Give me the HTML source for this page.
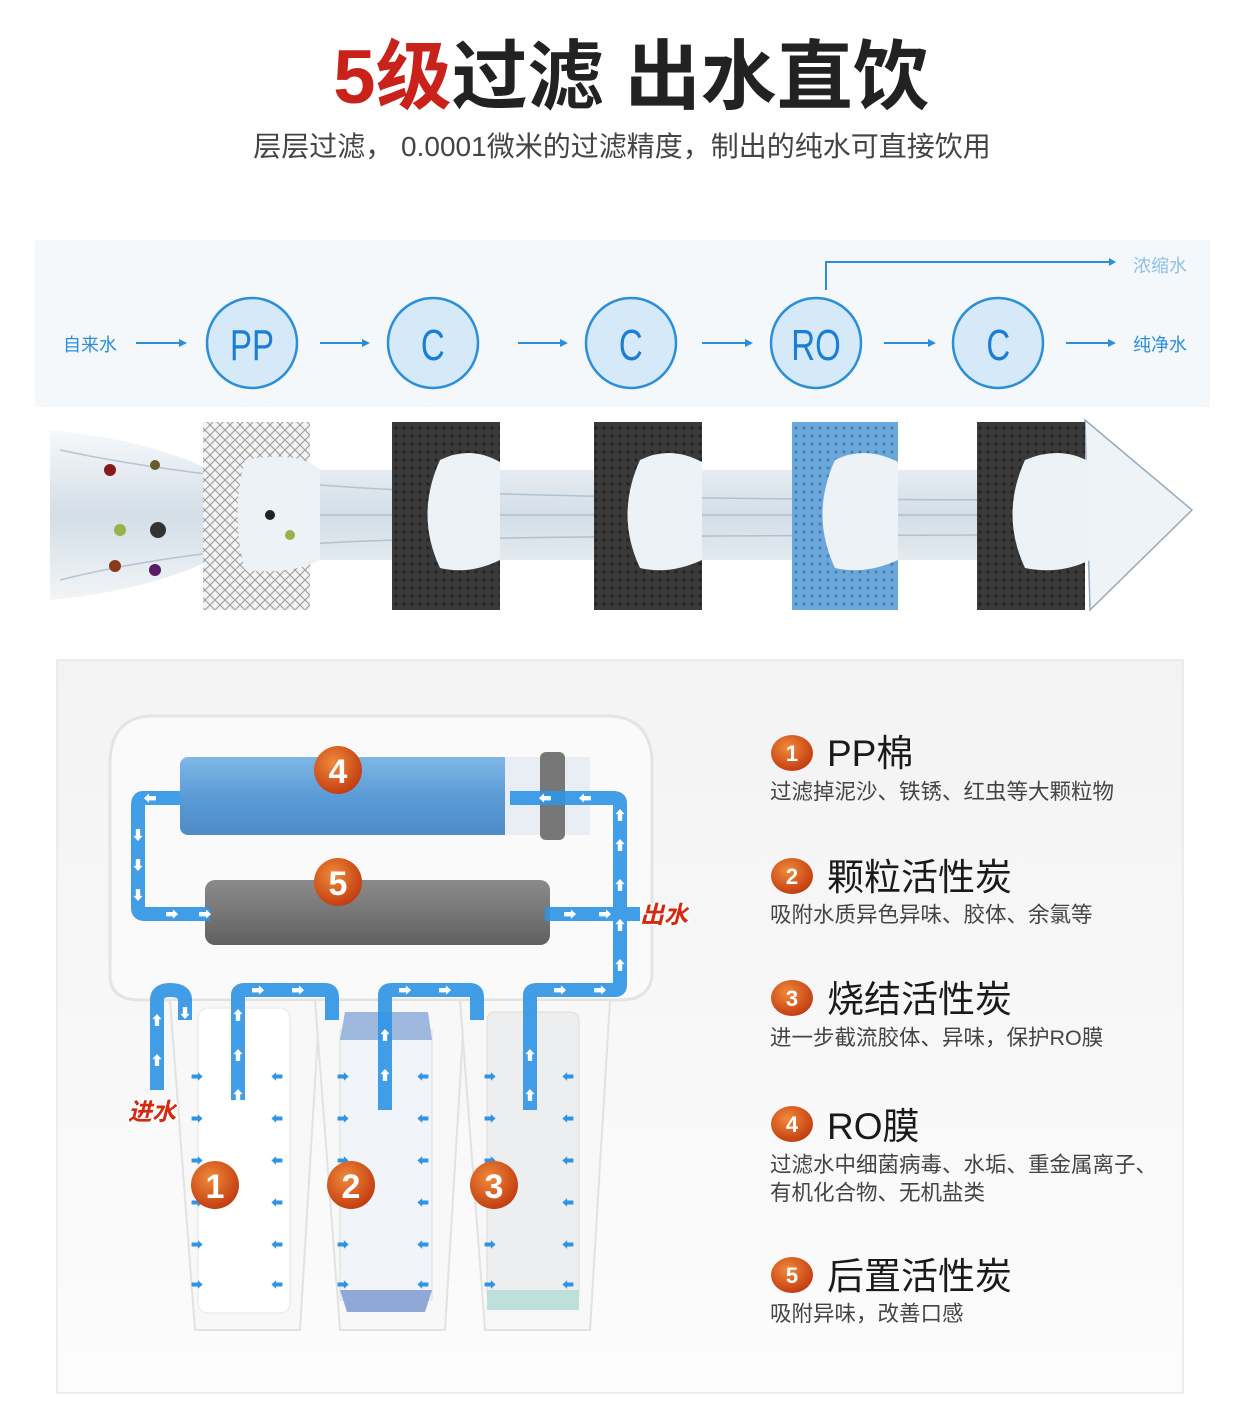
<!DOCTYPE html>
<html><head><meta charset="utf-8"><style>
body{margin:0;width:1242px;height:1407px;background:#fff;overflow:hidden;font-family:"Liberation Sans","Noto Sans CJK SC",sans-serif}
</style></head><body>
<svg width="1242" height="1407" viewBox="0 0 1242 1407" xmlns="http://www.w3.org/2000/svg" font-family="Liberation Sans, Noto Sans CJK SC, sans-serif">
<defs>
<linearGradient id="panel" x1="0" y1="0" x2="0" y2="1"><stop offset="0" stop-color="#f3f3f3"/><stop offset="1" stop-color="#fcfcfc"/></linearGradient>
<linearGradient id="water" x1="0" y1="0" x2="0" y2="1"><stop offset="0" stop-color="#f7f9fb"/><stop offset=".5" stop-color="#d3dee7"/><stop offset="1" stop-color="#f2f5f7"/></linearGradient>
<linearGradient id="ro" x1="0" y1="0" x2="0" y2="1"><stop offset="0" stop-color="#7fb7e6"/><stop offset=".5" stop-color="#5b9cd6"/><stop offset="1" stop-color="#4d8bc6"/></linearGradient>
<linearGradient id="gr" x1="0" y1="0" x2="0" y2="1"><stop offset="0" stop-color="#8a8a8a"/><stop offset=".5" stop-color="#777"/><stop offset="1" stop-color="#606060"/></linearGradient>
<radialGradient id="badge" cx=".4" cy=".35" r=".7"><stop offset="0" stop-color="#f08a3a"/><stop offset="1" stop-color="#c0380e"/></radialGradient>
<pattern id="mesh" width="8" height="8" patternUnits="userSpaceOnUse"><rect width="8" height="8" fill="#3a3a3a"/><circle cx="4" cy="4" r="1.6" fill="#222"/></pattern>
<pattern id="meshb" width="8" height="8" patternUnits="userSpaceOnUse"><rect width="8" height="8" fill="#6aa8db"/><circle cx="4" cy="4" r="1.6" fill="#4a7fae"/></pattern>
<pattern id="meshw" width="10" height="10" patternUnits="userSpaceOnUse"><rect width="10" height="10" fill="#f3f3f3"/><path d="M0 5L5 0L10 5L5 10Z" fill="none" stroke="#999" stroke-width="1"/></pattern>
</defs>

<text x="631" y="103" text-anchor="middle" font-size="76" font-weight="bold" fill="#222"><tspan fill="#c8221a">5级</tspan>过滤 出水直饮</text>
<text x="622" y="156" text-anchor="middle" font-size="28" fill="#444">层层过滤， 0.0001微米的过滤精度，制出的纯水可直接饮用</text>

<rect x="35" y="240" width="1175" height="167" fill="#f5f8fb"/>
<g stroke="#2a8fd8" stroke-width="2" fill="none">
<path d="M826 290V262H1112"/>
<path d="M136 343H183M320 343H366M518 343H564M702 343H749M884 343H932M1066 343H1112"/>
</g>
<g fill="#2a8fd8"><path d="M1116 262l-7-4v8z"/><path d="M187 343l-8-4v8zM370 343l-8-4v8zM568 343l-8-4v8zM753 343l-8-4v8zM936 343l-8-4v8zM1116 343l-8-4v8z"/></g>
<text x="90" y="351" text-anchor="middle" font-size="18" fill="#2a8fd8">自来水</text>
<text x="1160" y="351" text-anchor="middle" font-size="18" fill="#2a8fd8">纯净水</text>
<text x="1160" y="272" text-anchor="middle" font-size="18" fill="#8ec0e8">浓缩水</text>
<g fill="#d6e9f8" stroke="#2a8fd8" stroke-width="2.5">
<circle cx="252" cy="343" r="45"/><circle cx="433" cy="343" r="45"/><circle cx="631" cy="343" r="45"/><circle cx="816" cy="343" r="45"/><circle cx="998" cy="343" r="45"/></g>
<g font-size="44" fill="#1a7fd4" text-anchor="middle" transform="scale(0.75,1)">
<text x="336" y="360">PP</text><text x="577" y="360">C</text><text x="841" y="360">C</text><text x="1088" y="360">RO</text><text x="1331" y="360">C</text></g>

<path d="M50 430Q150 440 210 470L1090 470L1090 560L210 560Q150 590 50 600Z" fill="url(#water)"/>
<g stroke="#9fb2c2" stroke-width="1.5" fill="none" opacity=".7"><path d="M60 450Q200 480 400 490T1090 500"/><path d="M60 580Q200 545 400 540T1090 535"/><path d="M300 515H1090"/></g>
<path d="M1085 420L1192 510L1090 610Z" fill="#eef3f7" stroke="#9ab" stroke-width="1.5"/>
<rect x="203" y="422" width="107" height="188" fill="url(#meshw)"/>
<rect x="392" y="422" width="108" height="188" fill="url(#mesh)"/>
<rect x="594" y="422" width="108" height="188" fill="url(#mesh)"/>
<rect x="792" y="422" width="106" height="188" fill="url(#meshb)"/>
<rect x="977" y="422" width="108" height="188" fill="url(#mesh)"/>
<g fill="#edf2f6">
<path d="M245 460Q300 450 320 470V560Q290 575 245 570Q230 515 245 460Z"/>
<path d="M440 460Q470 445 500 462V560Q470 575 440 568Q415 515 440 460Z"/>
<path d="M640 460Q670 445 702 462V560Q670 575 640 568Q615 515 640 460Z"/>
<path d="M835 460Q865 445 898 462V560Q865 575 835 568Q810 515 835 460Z"/>
<path d="M1025 460Q1060 445 1090 462V560Q1060 575 1025 568Q1000 515 1025 460Z"/>
</g>
<g><circle cx="110" cy="470" r="6" fill="#8a1a1a"/><circle cx="155" cy="465" r="5" fill="#6b5a2a"/><circle cx="120" cy="530" r="6" fill="#9ab04a"/><circle cx="158" cy="530" r="8" fill="#333"/><circle cx="115" cy="566" r="6" fill="#8a3a1a"/><circle cx="155" cy="570" r="6" fill="#5a1a6a"/><circle cx="270" cy="515" r="5" fill="#222"/><circle cx="290" cy="535" r="5" fill="#9ab04a"/></g>

<rect x="57" y="660" width="1126" height="733" fill="url(#panel)" stroke="#ddd"/>
<path d="M110 760Q112 718 150 716H610Q650 718 652 760V975Q650 1000 620 1000H140Q110 1000 110 975Z" fill="#fafafa" stroke="#e4e4e4" stroke-width="3"/>
<g fill="#f8f8f8" stroke="#e2e2e2" stroke-width="2">
<path d="M170 1000H320L300 1330H195Z"/><path d="M315 1000H465L445 1330H340Z"/><path d="M460 1000H610L590 1330H485Z"/></g>
<rect x="198" y="1008" width="92" height="305" rx="10" fill="#fff" stroke="#e6e6e6"/>
<rect x="340" y="1030" width="92" height="270" fill="#f1f4f8" stroke="#ddd"/>
<path d="M345 1012H428L432 1040H340Z" fill="#9db7dd"/>
<path d="M340 1290H432L425 1312H347Z" fill="#8fa8d6"/>
<rect x="487" y="1012" width="92" height="290" rx="8" fill="#eceef0" stroke="#ddd"/>
<rect x="487" y="1290" width="92" height="20" fill="#bfe0da"/>
<rect x="180" y="757" width="410" height="78" rx="8" fill="url(#ro)"/>
<rect x="505" y="757" width="85" height="78" fill="#e8eef4"/>
<rect x="540" y="752" width="25" height="88" rx="6" fill="#777"/>
<rect x="205" y="880" width="345" height="65" rx="10" fill="url(#gr)"/>

<g fill="none" stroke="#2f94e6" stroke-width="14" stroke-linejoin="round" opacity=".9">
<path d="M157 1090V1000Q157 990 170 990Q185 990 185 1000V1020"/>
<path d="M238 1100V995Q238 990 245 990H325Q332 990 332 997V1020"/>
<path d="M385 1110V995Q385 990 392 990H470Q477 990 477 997V1020"/>
<path d="M530 1110V995Q530 990 537 990H615Q620 990 620 985V803Q620 798 613 798H510"/>
<path d="M180 798H143Q138 798 138 805V908Q138 914 145 914H210"/>
<path d="M545 914H640"/>
</g>
<g fill="#fff" font-size="13" text-anchor="middle">
<text x="157" y="1025">⬆</text><text x="157" y="1065">⬆</text><text x="185" y="1018">⬇</text>
<text x="238" y="1020">⬆</text><text x="238" y="1060">⬆</text><text x="238" y="1100">⬆</text><text x="258" y="995">➡</text><text x="298" y="995">➡</text>
<text x="385" y="1040">⬆</text><text x="385" y="1080">⬆</text><text x="405" y="995">➡</text><text x="445" y="995">➡</text>
<text x="530" y="1060">⬆</text><text x="530" y="1100">⬆</text><text x="560" y="995">➡</text><text x="600" y="995">➡</text>
<text x="620" y="970">⬆</text><text x="620" y="930">⬆</text><text x="620" y="890">⬆</text><text x="620" y="850">⬆</text><text x="620" y="820">⬆</text>
<text x="585" y="803">⬅</text><text x="545" y="803">⬅</text><text x="150" y="803">⬅</text>
<text x="138" y="840">⬇</text><text x="138" y="870">⬇</text><text x="138" y="900">⬇</text><text x="172" y="919">➡</text><text x="205" y="919">➡</text>
<text x="570" y="919">➡</text><text x="605" y="919">➡</text>
</g>
<g fill="#2f94e6" font-size="12" text-anchor="middle">
<text x="197" y="1081">➡</text><text x="197" y="1123">➡</text><text x="197" y="1165">➡</text><text x="197" y="1207">➡</text><text x="197" y="1249">➡</text><text x="197" y="1289">➡</text>
<text x="277" y="1081">⬅</text><text x="277" y="1123">⬅</text><text x="277" y="1165">⬅</text><text x="277" y="1207">⬅</text><text x="277" y="1249">⬅</text><text x="277" y="1289">⬅</text>
<text x="343" y="1081">➡</text><text x="343" y="1123">➡</text><text x="343" y="1165">➡</text><text x="343" y="1207">➡</text><text x="343" y="1249">➡</text><text x="343" y="1289">➡</text>
<text x="423" y="1081">⬅</text><text x="423" y="1123">⬅</text><text x="423" y="1165">⬅</text><text x="423" y="1207">⬅</text><text x="423" y="1249">⬅</text><text x="423" y="1289">⬅</text>
<text x="490" y="1081">➡</text><text x="490" y="1123">➡</text><text x="490" y="1165">➡</text><text x="490" y="1207">➡</text><text x="490" y="1249">➡</text><text x="490" y="1289">➡</text>
<text x="568" y="1081">⬅</text><text x="568" y="1123">⬅</text><text x="568" y="1165">⬅</text><text x="568" y="1207">⬅</text><text x="568" y="1249">⬅</text><text x="568" y="1289">⬅</text>
</g>
<g font-size="24" font-weight="bold" fill="#d52a10" font-style="italic" stroke="#fff" stroke-width="3" paint-order="stroke">
<text x="128" y="1120">进水</text><text x="640" y="923">出水</text></g>
<g font-size="34" font-weight="bold" fill="#fff" text-anchor="middle">
<circle cx="338" cy="770" r="24" fill="url(#badge)"/><text x="338" y="783">4</text>
<circle cx="338" cy="882" r="24" fill="url(#badge)"/><text x="338" y="895">5</text>
<circle cx="215" cy="1185" r="24" fill="url(#badge)"/><text x="215" y="1198">1</text>
<circle cx="351" cy="1185" r="24" fill="url(#badge)"/><text x="351" y="1198">2</text>
<circle cx="494" cy="1185" r="24" fill="url(#badge)"/><text x="494" y="1198">3</text>
</g>

<g font-size="22" font-weight="bold" fill="#fff" text-anchor="middle">
<ellipse cx="792" cy="753" rx="21" ry="18" fill="url(#badge)"/><text x="792" y="761">1</text>
<ellipse cx="792" cy="876" rx="21" ry="18" fill="url(#badge)"/><text x="792" y="884">2</text>
<ellipse cx="792" cy="998" rx="21" ry="18" fill="url(#badge)"/><text x="792" y="1006">3</text>
<ellipse cx="792" cy="1124" rx="21" ry="18" fill="url(#badge)"/><text x="792" y="1132">4</text>
<ellipse cx="792" cy="1275" rx="21" ry="18" fill="url(#badge)"/><text x="792" y="1283">5</text>
</g>
<g font-size="37" fill="#1a1a1a">
<text x="827" y="766">PP棉</text><text x="827" y="890">颗粒活性炭</text><text x="827" y="1012">烧结活性炭</text><text x="827" y="1139">RO膜</text><text x="827" y="1289">后置活性炭</text></g>
<g font-size="21.5" fill="#444">
<text x="770" y="799">过滤掉泥沙、铁锈、红虫等大颗粒物</text>
<text x="770" y="922">吸附水质异色异味、胶体、余氯等</text>
<text x="770" y="1045">进一步截流胶体、异味，保护RO膜</text>
<text x="770" y="1172">过滤水中细菌病毒、水垢、重金属离子、</text>
<text x="770" y="1200">有机化合物、无机盐类</text>
<text x="770" y="1321">吸附异味，改善口感</text></g>
</svg>
</body></html>
